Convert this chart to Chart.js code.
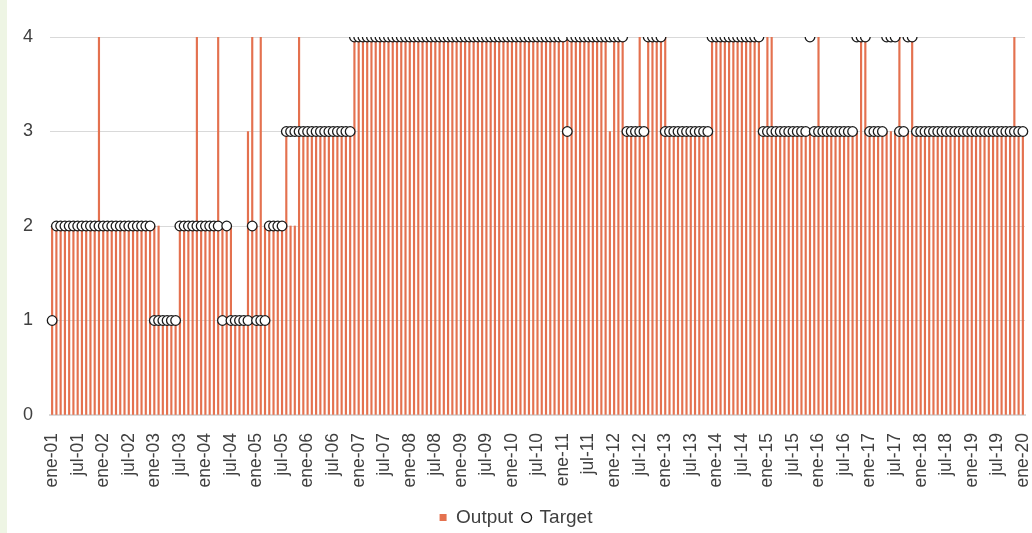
<!DOCTYPE html>
<html>
<head>
  <title>Output vs Target</title>
  <script src="https://cdn.jsdelivr.net/npm/chart.js"></script>
  <style>
    html, body { margin: 0; padding: 0; background: #eef5e4; }
    #wrap { position: absolute; left: 7px; top: 0; width: 1025px; height: 533px; background: #ffffff; overflow: hidden; }
  </style>
</head>
<body>
  <div id="wrap"><canvas id="chart" width="1025" height="537"></canvas></div>
  <script>
    // monthly, ene-01 .. ene-20
    var monthNames = ['ene', 'feb', 'mar', 'abr', 'may', 'jun', 'jul', 'ago', 'sep', 'oct', 'nov', 'dic'];
    var years = ['01', '02', '03', '04', '05', '06', '07', '08', '09', '10',
                 '11', '12', '13', '14', '15', '16', '17', '18', '19', '20'];

    var output = [
      2,2,2,2,2,2,2,2,2,2,2,4,   // 2001
      2,2,2,2,2,2,2,2,2,2,2,2,   // 2002
      2,2,1,1,1,1,2,2,2,2,4,2,   // 2003
      2,2,2,4,2,2,2,1,1,1,3,4,   // 2004
      2,4,2,2,2,2,2,3,2,2,4,3,   // 2005
      3,3,3,3,3,3,3,3,3,3,3,4,   // 2006
      4,4,4,4,4,4,4,4,4,4,4,4,   // 2007
      4,4,4,4,4,4,4,4,4,4,4,4,   // 2008
      4,4,4,4,4,4,4,4,4,4,4,4,   // 2009
      4,4,4,4,4,4,4,4,4,4,4,4,   // 2010
      4,4,4,4,4,4,4,4,4,4,4,3,   // 2011
      4,4,4,3,3,3,4,3,4,4,4,4,   // 2012
      4,3,3,3,3,3,3,3,3,3,3,4,   // 2013
      4,4,4,4,4,4,4,4,4,4,4,3,   // 2014
      4,4,3,3,3,3,3,3,3,3,3,3,   // 2015
      4,3,3,3,3,3,3,3,3,3,4,4,   // 2016
      3,3,3,3,3,3,3,4,3,3,4,3,   // 2017
      3,3,3,3,3,3,3,3,3,3,3,3,   // 2018
      3,3,3,3,3,3,3,3,3,3,4,3,   // 2019
      3                          // 2020
    ];

    var target = [
      1,2,2,2,2,2,2,2,2,2,2,2,   // 2001
      2,2,2,2,2,2,2,2,2,2,2,2,   // 2002
      1,1,1,1,1,1,2,2,2,2,2,2,   // 2003
      2,2,2,2,1,2,1,1,1,1,1,2,   // 2004
      1,1,1,2,2,2,2,3,3,3,3,3,   // 2005
      3,3,3,3,3,3,3,3,3,3,3,4,   // 2006
      4,4,4,4,4,4,4,4,4,4,4,4,   // 2007
      4,4,4,4,4,4,4,4,4,4,4,4,   // 2008
      4,4,4,4,4,4,4,4,4,4,4,4,   // 2009
      4,4,4,4,4,4,4,4,4,4,4,4,   // 2010
      4,3,4,4,4,4,4,4,4,4,4,4,   // 2011
      4,4,4,3,3,3,3,3,4,4,4,4,   // 2012
      3,3,3,3,3,3,3,3,3,3,3,4,   // 2013
      4,4,4,4,4,4,4,4,4,4,4,3,   // 2014
      3,3,3,3,3,3,3,3,3,3,4,3,   // 2015
      3,3,3,3,3,3,3,3,3,4,4,4,   // 2016
      3,3,3,3,4,4,4,3,3,4,4,3,   // 2017
      3,3,3,3,3,3,3,3,3,3,3,3,   // 2018
      3,3,3,3,3,3,3,3,3,3,3,3,   // 2019
      3                          // 2020
    ];

    var labels = [];
    for (var i = 0; i < output.length; i++) {
      labels.push(monthNames[i % 12] + '-' + years[Math.floor(i / 12)]);
    }

    Chart.defaults.font.family = 'Liberation Sans, Arial, sans-serif';
    Chart.defaults.color = '#404040';

    var ctx = document.getElementById('chart').getContext('2d');
    var chart = new Chart(ctx, {
      type: 'bar',
      data: {
        labels: labels,
        datasets: [{
          type: 'line',
          label: 'Target',
          data: target,
          showLine: false,
          pointRadius: 4.8,
          pointBackgroundColor: '#ffffff',
          pointBorderColor: '#1a1a1a',
          pointBorderWidth: 1.3,
          backgroundColor: '#ffffff',
          borderColor: '#1a1a1a',
          borderWidth: 1.2,
          pointStyle: 'circle',
          order: 0
        }, {
          label: 'Output',
          data: output,
          backgroundColor: '#e4714f',
          borderWidth: 0,
          barThickness: 1.5,
          pointStyle: 'rect',
          order: 1
        }]
      },
      options: {
        responsive: false,
        animation: false,
        devicePixelRatio: 1,
        layout: { padding: { top: 37, right: 7, bottom: 0, left: 0 } },
        scales: {
          x: {
            offset: true,
            grid: { display: false, drawTicks: false },
            border: { color: '#d9d9d9', width: 2 },
            ticks: {
              autoSkip: false,
              maxRotation: 90,
              minRotation: 90,
              padding: 18,
              font: { size: 17.5 },
              callback: function (v, idx) {
                return idx % 6 === 0 ? labels[idx] : '';
              }
            },
            afterFit: function (s) {
              s.height = 83;
              s.paddingLeft = 0;
              s.paddingRight = 0;
            }
          },
          y: {
            min: 0,
            max: 4,
            grid: { color: '#d9d9d9', drawTicks: false },
            border: { display: false },
            ticks: { stepSize: 1, padding: 17, font: { size: 18 } },
            afterFit: function (s) {
              s.width = 43;
              s.paddingTop = 0;
              s.paddingBottom = 0;
            }
          }
        },
        plugins: {
          tooltip: { enabled: false },
          legend: {
            position: 'bottom',
            reverse: true,
            labels: {
              usePointStyle: true,
              boxWidth: 7,
              boxHeight: 7,
              padding: 10,
              font: { size: 19, lineHeight: 1 },
              color: '#404040'
            }
          }
        }
      }
    });
  </script>
</body>
</html>
